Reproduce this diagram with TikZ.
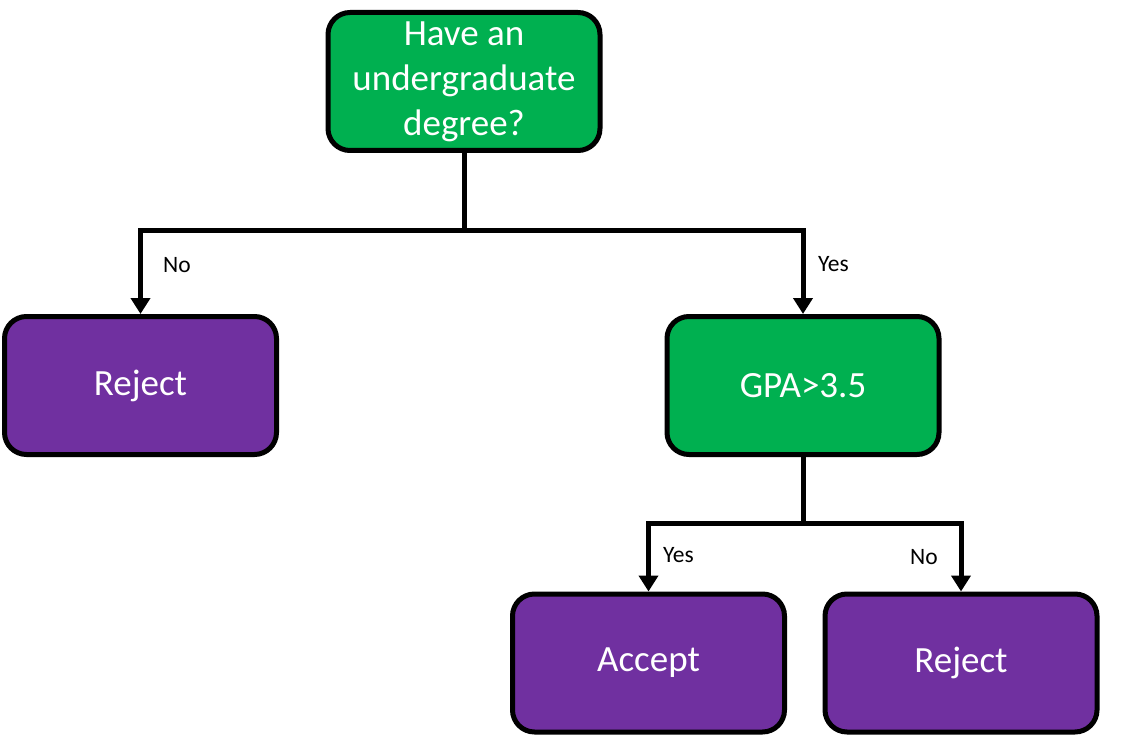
\documentclass[tikz,border=0pt]{standalone}
\usepackage{fontspec}
\setmainfont{Carlito}
\usetikzlibrary{arrows.meta}
\definecolor{boxgreen}{HTML}{00B050}
\definecolor{boxpurple}{HTML}{7030A0}
\tikzset{
  box/.style={draw=black, line width=5pt, rounded corners=22pt, minimum width=272pt, minimum height=138pt, inner sep=0pt, align=center, text=white, font=\fontsize{37}{45}\selectfont},
  decision/.style={box, fill=boxgreen},
  outcome/.style={box, fill=boxpurple},
  conn/.style={line width=5pt, draw=black},
  arr/.style={conn, -{Triangle[width=19pt,length=16pt]}},
  lbl/.style={font=\fontsize{23.5}{26}\selectfont, anchor=west, inner sep=0pt}
}
\begin{document}
\begin{tikzpicture}[x=1pt,y=-1pt]
\useasboundingbox (0,0) rectangle (1140,738);
\node[decision] (q1) at (464,81.5) {Have an\\undergraduate\\degree?};
\node[outcome] (rej1) at (140.5,385.5) {Reject};
\node[decision] (q2) at (803,385.5) {GPA>3.5};
\node[outcome] (acc) at (648.5,663) {Accept};
\node[outcome] (rej2) at (961,663) {Reject};
\coordinate (j1) at (464,230);
\coordinate (j2) at (803,523);
\draw[conn] (q1.south) -- (j1);
\draw[arr, line join=miter] (j1) -| (rej1.north);
\draw[arr, line join=miter] (j1) -| (q2.north);
\draw[conn] (q2.south) -- (j2);
\draw[arr, line join=miter] (j2) -| (acc.north);
\draw[arr, line join=miter] (j2) -| (rej2.north);
\node[lbl] (l1) at (163,265) {No};
\node[lbl] (l2) at (818,264) {Yes};
\node[lbl] (l3) at (663,555) {Yes};
\node[lbl] (l4) at (910,557) {No};
\end{tikzpicture}
\end{document}
